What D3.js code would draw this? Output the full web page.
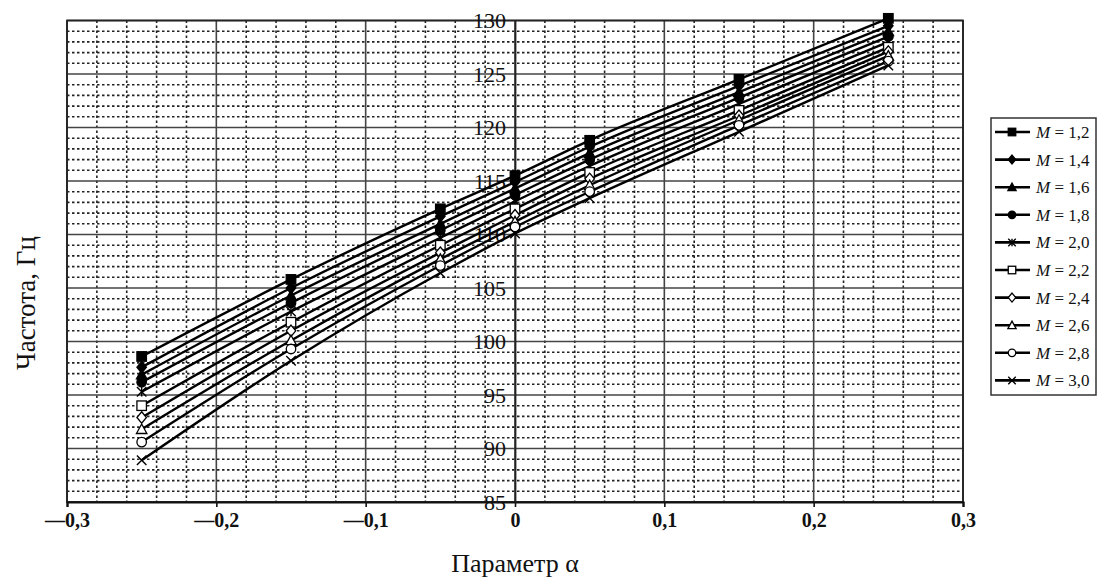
<!DOCTYPE html>
<html>
<head>
<meta charset="utf-8">
<script src="https://cdn.jsdelivr.net/npm/d3@7"></script>
<style>
  html, body { margin: 0; padding: 0; background: #fff; }
  svg { display: block; font-family: "Liberation Serif", "Times New Roman", serif; }
</style>
</head>
<body>
<svg id="chart" width="1098" height="579"></svg>
<script>
// Parameter α values at which the frequency was computed
const alpha = [-0.25, -0.15, -0.05, 0, 0.05, 0.15, 0.25];

// Series labels (M values)
const mLabels = ["1,2", "1,4", "1,6", "1,8", "2,0", "2,2", "2,4", "2,6", "2,8", "3,0"];

// Frequency, Hz, for each M
const m12 = [98.6, 105.8, 112.4, 115.5, 118.8, 124.5, 130.2];
const m14 = [97.6, 105.0, 111.7, 114.9, 118.2, 123.9, 129.5];
const m16 = [96.9, 104.3, 111.0, 114.3, 117.6, 123.3, 129.0];
const m18 = [96.2, 103.6, 110.4, 113.7, 117.0, 122.8, 128.5];
const m20 = [95.3, 102.8, 109.7, 113.1, 116.4, 122.2, 128.0];
const m22 = [94.0, 101.8, 109.0, 112.4, 115.8, 121.6, 127.5];
const m24 = [92.9, 101.0, 108.3, 111.8, 115.2, 121.1, 127.1];
const m26 = [91.8, 100.1, 107.7, 111.2, 114.6, 120.7, 126.7];
const m28 = [90.6, 99.3, 107.1, 110.7, 114.0, 120.2, 126.2];
const m30 = [88.9, 98.2, 106.4, 110.1, 113.4, 119.6, 125.8];

const seriesValues = [m12, m14, m16, m18, m20, m22, m24, m26, m28, m30];

// Axis ticks
const xTicks = [-0.3, -0.2, -0.1, 0, 0.1, 0.2, 0.3];
const xTickLabels = ["—0,3", "—0,2", "—0,1", "0", "0,1", "0,2", "0,3"];
const yTicks = [85, 90, 95, 100, 105, 110, 115, 120, 125, 130];

// Marker kinds per series
const markerKinds = ["squareF", "diamondF", "triangleF", "circleF", "asterisk",
                     "squareO", "diamondO", "triangleO", "circleO", "cross"];

const svg = d3.select("#chart");

const x = d3.scaleLinear().domain([-0.3, 0.3]).range([67, 963]);
const y = d3.scaleLinear().domain([85, 130]).range([502, 20.5]);

const plot = svg.append("g");

// Minor grid (dotted): every 0.02 in α and every 1 Hz
const xMinor = d3.range(-15, 16).filter(i => i % 5 !== 0).map(i => i * 0.02);
const yMinor = d3.range(85, 131).filter(v => v % 5 !== 0);

plot.append("g").selectAll("line").data(xMinor).join("line")
  .attr("x1", d => x(d)).attr("x2", d => x(d))
  .attr("y1", y(130)).attr("y2", y(85))
  .attr("stroke", "#222").attr("stroke-width", 1.6).attr("stroke-dasharray", "2.5,2.5");

plot.append("g").selectAll("line").data(yMinor).join("line")
  .attr("x1", x(-0.3)).attr("x2", x(0.3))
  .attr("y1", d => y(d)).attr("y2", d => y(d))
  .attr("stroke", "#222").attr("stroke-width", 1.6).attr("stroke-dasharray", "2.5,2.5");

// Major grid (solid)
plot.append("g").selectAll("line").data(xTicks).join("line")
  .attr("x1", d => x(d)).attr("x2", d => x(d))
  .attr("y1", y(130)).attr("y2", y(85))
  .attr("stroke", "#444").attr("stroke-width", 1.6);

plot.append("g").selectAll("line").data(yTicks).join("line")
  .attr("x1", x(-0.3)).attr("x2", x(0.3))
  .attr("y1", d => y(d)).attr("y2", d => y(d))
  .attr("stroke", "#444").attr("stroke-width", 1.6);

// Plot frame
plot.append("rect")
  .attr("x", x(-0.3)).attr("y", y(130))
  .attr("width", x(0.3) - x(-0.3)).attr("height", y(85) - y(130))
  .attr("fill", "none").attr("stroke", "#222").attr("stroke-width", 1.8);

// Bottom axis
const xAxis = d3.axisBottom(x).tickValues(xTicks).tickSize(5)
  .tickFormat((d, i) => xTickLabels[i]);
const gx = svg.append("g").attr("transform", `translate(0,${y(85)})`).call(xAxis);
gx.select(".domain").attr("stroke", "#111").attr("stroke-width", 2.2);
gx.selectAll(".tick line").attr("stroke", "#111").attr("stroke-width", 1.6);
gx.selectAll(".tick text")
  .attr("font-family", "Liberation Serif, serif")
  .attr("font-size", 20).attr("font-weight", "bold").attr("fill", "#111")
  .attr("dy", "0.85em");

// Vertical axis at α = 0 with labels on its left
const yAxis = d3.axisLeft(y).tickValues(yTicks).tickSize(0).tickPadding(9)
  .tickFormat(d3.format("d"));
const gy = svg.append("g").attr("transform", `translate(${x(0)},0)`).call(yAxis);
gy.select(".domain").attr("stroke", "#222").attr("stroke-width", 1.8);
gy.selectAll(".tick text")
  .attr("font-family", "Liberation Serif, serif")
  .attr("font-size", 22).attr("fill", "#111");

// Marker drawing helper
function drawMarker(g, kind, cx, cy, s) {
  const k = s / 2;
  const filled = kind.endsWith("F");
  const fill = filled ? "#000" : "#fff";
  if (kind.startsWith("square")) {
    g.append("rect").attr("x", cx - k).attr("y", cy - k).attr("width", s).attr("height", s)
      .attr("fill", fill).attr("stroke", "#000").attr("stroke-width", 1.3);
  } else if (kind.startsWith("diamond")) {
    g.append("path").attr("d", `M${cx},${cy - k * 1.2}L${cx + k},${cy}L${cx},${cy + k * 1.2}L${cx - k},${cy}Z`)
      .attr("fill", fill).attr("stroke", "#000").attr("stroke-width", 1.3);
  } else if (kind.startsWith("triangle")) {
    g.append("path").attr("d", `M${cx},${cy - k * 1.1}L${cx + k * 1.1},${cy + k * 0.9}L${cx - k * 1.1},${cy + k * 0.9}Z`)
      .attr("fill", fill).attr("stroke", "#000").attr("stroke-width", 1.3);
  } else if (kind.startsWith("circle")) {
    g.append("circle").attr("cx", cx).attr("cy", cy).attr("r", k)
      .attr("fill", fill).attr("stroke", "#000").attr("stroke-width", 1.3);
  } else if (kind === "asterisk") {
    g.append("path")
      .attr("d", `M${cx - k},${cy - k}L${cx + k},${cy + k}M${cx - k},${cy + k}L${cx + k},${cy - k}M${cx},${cy - k}L${cx},${cy + k}`)
      .attr("stroke", "#000").attr("stroke-width", 1.4).attr("fill", "none");
  } else if (kind === "cross") {
    g.append("path")
      .attr("d", `M${cx - k},${cy - k}L${cx + k},${cy + k}M${cx - k},${cy + k}L${cx + k},${cy - k}`)
      .attr("stroke", "#000").attr("stroke-width", 1.4).attr("fill", "none");
  }
}

// Series lines
const line = d3.line()
  .x((d, i) => x(alpha[i]))
  .y(d => y(d))
  .curve(d3.curveMonotoneX);

const linesG = svg.append("g");
seriesValues.forEach(vals => {
  linesG.append("path").datum(vals)
    .attr("d", line)
    .attr("fill", "none").attr("stroke", "#000").attr("stroke-width", 2.4);
});

// Markers on top of lines
const marksG = svg.append("g");
seriesValues.forEach((vals, si) => {
  vals.forEach((v, i) => drawMarker(marksG, markerKinds[si], x(alpha[i]), y(v), 9.5));
});

// Axis titles
svg.append("text")
  .attr("x", 515).attr("y", 572)
  .attr("text-anchor", "middle")
  .attr("font-size", 26).attr("fill", "#111")
  .text("Параметр α");

svg.append("text")
  .attr("transform", "translate(35,303) rotate(-90)")
  .attr("text-anchor", "middle")
  .attr("font-size", 27).attr("fill", "#111")
  .text("Частота, Гц");

// Legend
const legTop = 118, rowH = 27.6, legX = 991;
const legend = svg.append("g");
legend.append("rect")
  .attr("x", legX).attr("y", legTop)
  .attr("width", 1096 - legX).attr("height", 395 - legTop)
  .attr("fill", "#fff").attr("stroke", "#333").attr("stroke-width", 1.5);

mLabels.forEach((lab, i) => {
  const cy = legTop + 14 + i * rowH;
  legend.append("line")
    .attr("x1", legX + 4).attr("x2", legX + 39)
    .attr("y1", cy).attr("y2", cy)
    .attr("stroke", "#000").attr("stroke-width", 2.6);
  drawMarker(legend, markerKinds[i], legX + 21, cy, 7.5);
  const t = legend.append("text")
    .attr("x", legX + 45).attr("y", cy + 6)
    .attr("font-size", 17).attr("fill", "#111");
  t.append("tspan").attr("font-style", "italic").text("M");
  t.append("tspan").text(" = " + lab);
});
</script>
</body>
</html>
